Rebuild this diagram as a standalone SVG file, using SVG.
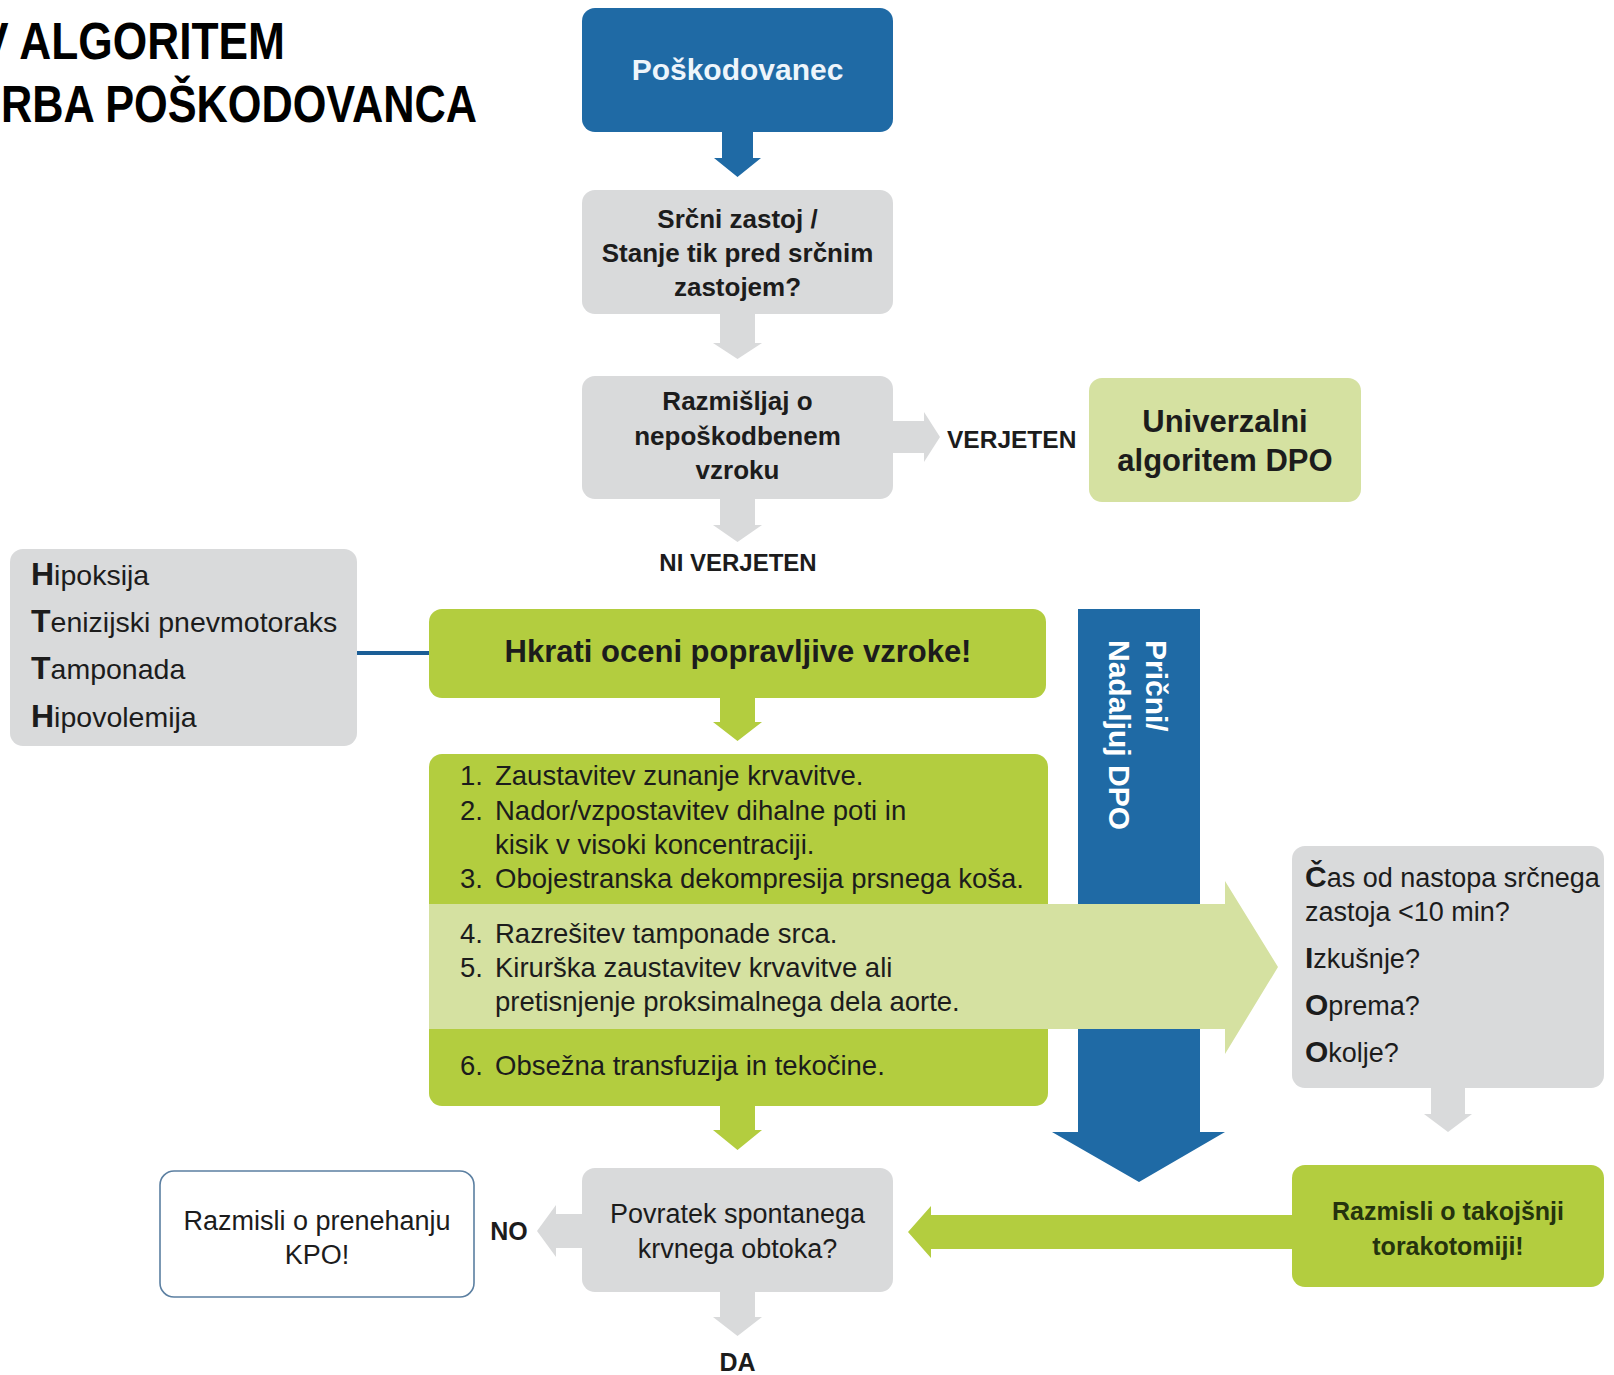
<svg xmlns="http://www.w3.org/2000/svg" width="1614" height="1375" viewBox="0 0 1614 1375">
  <style>
    text { font-family: "Liberation Sans", Arial, sans-serif; fill: #1c1c1c; }
    .b { font-weight: bold; }
    .c { text-anchor: middle; }
    .title { font-size: 51px; font-weight: bold; fill: #000; }
    .gray { fill: #d9dadb; }
    .green { fill: #b3cd3f; }
    .pale { fill: #d5e1a1; }
    .blue { fill: #1f6aa5; }
    .q { font-size: 26px; font-weight: bold; }
    .item { font-size: 27.5px; }
    .side { font-size: 27px; }
    .htth { font-size: 28.5px; }
    .big { font-size: 31px; font-weight: bold; }
  </style>

  <rect width="1614" height="1375" fill="#ffffff"/>

  <!-- heading, clipped at the left edge -->
  <g id="heading">
    <text class="title" x="-21" y="59" textLength="306" lengthAdjust="spacingAndGlyphs">V ALGORITEM</text>
    <text class="title" x="1" y="122" textLength="476" lengthAdjust="spacingAndGlyphs">RBA POŠKODOVANCA</text>
  </g>

  <!-- connectors -->
  <g id="connectors">
    <!-- Poškodovanec -> srčni zastoj -->
    <polygon class="blue" points="722,132 753,132 753,158 761,158 737.5,177 714,158 722,158"/>
    <!-- srčni zastoj -> razmišljaj -->
    <polygon class="gray" points="720,314 755,314 755,343 762,343 737.5,359 713,343 720,343"/>
    <!-- razmišljaj -> VERJETEN -->
    <polygon class="gray" points="893,421 924,421 924,412 940,437 924,462 924,453 893,453"/>
    <!-- razmišljaj -> NI VERJETEN -->
    <polygon class="gray" points="720,499 755,499 755,525 762,525 737.5,542 713,525 720,525"/>
    <!-- HTTH link -->
    <line x1="357" y1="653" x2="429" y2="653" stroke="#1b5e96" stroke-width="4"/>
    <!-- Hkrati -> list -->
    <polygon class="green" points="720,698 755,698 755,722 762,722 737.5,741 713,722 720,722"/>
    <!-- list -> Povratek -->
    <polygon class="green" points="720,1106 755,1106 755,1130 762,1130 737.5,1150 713,1130 720,1130"/>
    <!-- Povratek -> DA -->
    <polygon class="gray" points="720,1292 755,1292 755,1317 762,1317 737.5,1336 713,1317 720,1317"/>
    <!-- Povratek -> NO -->
    <polygon class="gray" points="582,1214 556,1214 556,1205 537,1231 556,1257 556,1248 582,1248"/>
    <!-- čas/izkušnje -> torakotomija -->
    <polygon class="gray" points="1431,1088 1465,1088 1465,1114 1472,1114 1448,1132 1424,1114 1431,1114"/>
    <!-- torakotomija -> Povratek -->
    <polygon class="green" points="1292,1215 931,1215 931,1206 908,1232 931,1258 931,1249 1292,1249"/>
  </g>

  <g id="n-poskodovanec">
    <rect class="blue" x="582" y="8" width="311" height="124" rx="13"/>
    <text class="c b" x="737.5" y="80" font-size="30" style="fill:#eef5fb">Poškodovanec</text>
  </g>

  <g id="n-zastoj">
    <rect class="gray" x="582" y="190" width="311" height="124" rx="13"/>
    <text class="c q" x="737.5" y="228">Srčni zastoj /</text>
    <text class="c q" x="737.5" y="262">Stanje tik pred srčnim</text>
    <text class="c q" x="737.5" y="296">zastojem?</text>
  </g>

  <g id="n-razmisljaj">
    <rect class="gray" x="582" y="376" width="311" height="123" rx="13"/>
    <text class="c q" x="737.5" y="410">Razmišljaj o</text>
    <text class="c q" x="737.5" y="445">nepoškodbenem</text>
    <text class="c q" x="737.5" y="479">vzroku</text>
  </g>

  <g id="n-verjeten">
    <text class="b" x="947" y="448" font-size="24.5">VERJETEN</text>
  </g>

  <g id="n-univerzalni">
    <rect class="pale" x="1089" y="378" width="272" height="124" rx="13"/>
    <text class="c big" x="1225" y="432" font-size="30">Univerzalni</text>
    <text class="c big" x="1225" y="471" font-size="30">algoritem DPO</text>
  </g>

  <g id="n-ni-verjeten">
    <text class="c b" x="738" y="571" font-size="24">NI VERJETEN</text>
  </g>

  <g id="n-htth">
    <rect class="gray" x="10" y="549" width="347" height="197" rx="13"/>
    <text class="htth" x="31" y="585"><tspan class="b" font-size="32">H</tspan>ipoksija</text>
    <text class="htth" x="31" y="632"><tspan class="b" font-size="32">T</tspan>enizijski pnevmotoraks</text>
    <text class="htth" x="31" y="679"><tspan class="b" font-size="32">T</tspan>amponada</text>
    <text class="htth" x="31" y="727"><tspan class="b" font-size="32">H</tspan>ipovolemija</text>
  </g>

  <g id="n-hkrati">
    <rect class="green" x="429" y="609" width="617" height="89" rx="13"/>
    <text class="c big" x="738" y="662" font-size="30">Hkrati oceni popravljive vzroke!</text>
  </g>

  <g id="n-ukrepi">
    <rect class="green" x="429" y="754" width="619" height="352" rx="13"/>
  </g>

  <g id="n-pricni">
    <polygon class="blue" points="1078,609 1200,609 1200,1132 1225,1132 1139,1182 1052,1132 1078,1132"/>
    <g transform="translate(1146,640) rotate(90)">
      <text class="b" x="0" y="0" font-size="30" style="fill:#ffffff">Prični/</text>
      <text class="b" x="0" y="37" font-size="30" style="fill:#ffffff">Nadaljuj DPO</text>
    </g>
  </g>

  <!-- pale band carrying steps 4 and 5 over to the right-hand box -->
  <g id="n-pas">
    <polygon class="pale" points="429,904 1225,904 1225,881 1278,967 1225,1054 1225,1029 429,1029"/>
  </g>

  <g id="n-ukrepi-text">
    <text class="item" x="460" y="785">1.</text><text class="item" x="495" y="785">Zaustavitev zunanje krvavitve.</text>
    <text class="item" x="460" y="820">2.</text><text class="item" x="495" y="820">Nador/vzpostavitev dihalne poti in</text>
    <text class="item" x="495" y="854">kisik v visoki koncentraciji.</text>
    <text class="item" x="460" y="888">3.</text><text class="item" x="495" y="888">Obojestranska dekompresija prsnega koša.</text>
    <text class="item" x="460" y="943">4.</text><text class="item" x="495" y="943">Razrešitev tamponade srca.</text>
    <text class="item" x="460" y="977">5.</text><text class="item" x="495" y="977">Kirurška zaustavitev krvavitve ali</text>
    <text class="item" x="495" y="1011">pretisnjenje proksimalnega dela aorte.</text>
    <text class="item" x="460" y="1075">6.</text><text class="item" x="495" y="1075">Obsežna transfuzija in tekočine.</text>
  </g>

  <g id="n-pogoji">
    <rect class="gray" x="1292" y="846" width="312" height="242" rx="13"/>
    <text class="side" x="1305" y="887" font-size="26"><tspan class="b" font-size="30">Č</tspan>as od nastopa srčnega</text>
    <text class="side" x="1305" y="921" font-size="26">zastoja &lt;10 min?</text>
    <text class="side" x="1305" y="968" font-size="26"><tspan class="b" font-size="30">I</tspan>zkušnje?</text>
    <text class="side" x="1305" y="1015" font-size="26"><tspan class="b" font-size="30">O</tspan>prema?</text>
    <text class="side" x="1305" y="1062" font-size="26"><tspan class="b" font-size="30">O</tspan>kolje?</text>
  </g>

  <g id="n-torakotomija">
    <rect class="green" x="1292" y="1165" width="312" height="122" rx="13"/>
    <text class="c b" x="1448" y="1220" font-size="25" style="fill:#25330e">Razmisli o takojšnji</text>
    <text class="c b" x="1448" y="1255" font-size="25" style="fill:#25330e">torakotomiji!</text>
  </g>

  <g id="n-povratek">
    <rect class="gray" x="582" y="1168" width="311" height="124" rx="13"/>
    <text class="c side" x="737.5" y="1223">Povratek spontanega</text>
    <text class="c side" x="737.5" y="1258">krvnega obtoka?</text>
  </g>

  <g id="n-no">
    <text class="c b" x="509" y="1240" font-size="25">NO</text>
  </g>

  <g id="n-prenehanje">
    <rect x="160" y="1171" width="314" height="126" rx="14" fill="#ffffff" stroke="#5b7fa1" stroke-width="1.6"/>
    <text class="c side" x="317" y="1230">Razmisli o prenehanju</text>
    <text class="c side" x="317" y="1264">KPO!</text>
  </g>

  <g id="n-da">
    <text class="c b" x="737.5" y="1371" font-size="25">DA</text>
  </g>
</svg>
